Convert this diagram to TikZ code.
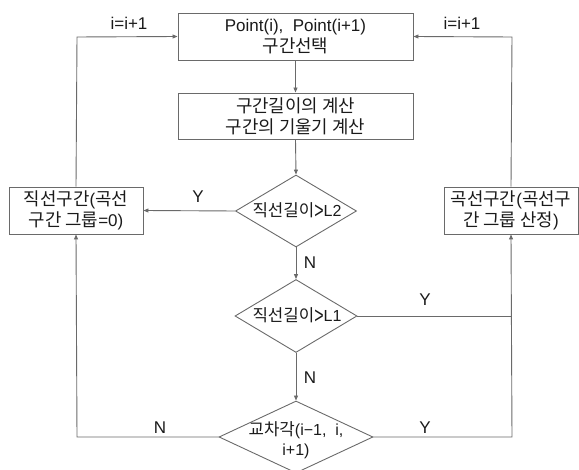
\documentclass[tikz,border=0pt]{standalone}
\usepackage{fontspec}
\usepackage{graphicx}
\setmainfont{Liberation Sans}
\newfontfamily\korfont{Noto Sans CJK KR}[Scale=1.05]
\newcommand{\kor}[1]{{\korfont #1}}
\newcommand{\tallgt}{\raisebox{-0.12em}{\scalebox{1}[1.45]{>}}}
\usetikzlibrary{arrows.meta,shapes.geometric}

\definecolor{linegray}{HTML}{6A6A6A}
\definecolor{txt}{HTML}{1A1A1A}

\tikzset{
  x=1pt, y=-1pt,
  every node/.style={text=txt, font=\fontsize{17}{21}\selectfont},
  procbox/.style={draw=linegray, line width=0.9pt, rectangle, inner sep=0pt, align=center},
  decision/.style={draw=linegray, line width=0.9pt, diamond, inner sep=0pt},
  flow/.style={draw=linegray, line width=0.9pt, -{Triangle[length=5pt,width=4pt]}},
  plain/.style={draw=linegray, line width=0.9pt},
  tag/.style={inner sep=0pt},
  dtext/.style={inner sep=0pt, font=\fontsize{16}{20}\selectfont},
}

\begin{document}
\begin{tikzpicture}
  \useasboundingbox (0,0) rectangle (579,470);

  % process boxes
  \node[procbox, minimum width=235pt, minimum height=47pt] (pick) at (295.5,36.5)
    {Point(i),\ \ Point(i+1)\\\kor{구간선택}};
  \node[procbox, minimum width=235pt, minimum height=46pt] (calc) at (295.5,116)
    {\kor{구간길이의 계산}\\\kor{구간의 기울기 계산}};
  \node[procbox, minimum width=134pt, minimum height=47pt] (straight) at (76,210.5)
    {\kor{직선구간}(\kor{곡선}\\\kor{구간 그룹}=0)};
  \node[procbox, minimum width=134pt, minimum height=47pt] (curve) at (511,210.5)
    {\kor{곡선구간}(\kor{곡선구}\\\kor{간 그룹 산정})};

  % decisions
  \node[decision, minimum width=121pt, minimum height=72pt] (dA) at (296,211) {};
  \node[dtext] at (297,211) {\kor{직선길이}\tallgt L2};
  \node[decision, minimum width=122pt, minimum height=73pt] (dB) at (296,316) {};
  \node[dtext] at (297,316) {\kor{직선길이}\tallgt L1};
  \node[decision, minimum width=154pt, minimum height=72pt] (dC) at (296,437) {};
  \node[dtext, align=center] at (296,440) {\kor{교차각}(i−1,\ \ i,\\i+1)};

  % bends of the loop lines
  \coordinate (lt) at (77,37);
  \coordinate (lb) at (77,437);
  \coordinate (rt) at (512,37);
  \coordinate (rm) at (512,316);
  \coordinate (rbm) at (512,437);

  % main chain
  \draw[flow] (pick.south) -- (calc.north);
  \draw[flow] (calc.south) -- (dA.north);
  \draw[flow] (dA.south) -- (dB.north);
  \draw[flow] (dB.south) -- (dC.north);

  % branches
  \draw[flow] (dA.west) -- (straight.east);
  \draw[plain] (dB.east) -- (rm);
  \draw[flow] (dC.east) -- (rbm) -- (curve.south);
  \draw[flow] (dC.west) -- (lb) -- (straight.south);

  % loops back to the top
  \draw[flow] (straight.north) -- (lt) -- (pick.west);
  \draw[flow] (curve.north) -- (rt) -- (pick.east);

  % labels
  \node[tag] at (129,23) {i=i+1};
  \node[tag] at (462,23) {i=i+1};
  \node[tag] at (198,197) {Y};
  \node[tag] at (310,263) {N};
  \node[tag] at (425,300) {Y};
  \node[tag] at (310,378) {N};
  \node[tag] at (160,428) {N};
  \node[tag] at (425,428) {Y};
\end{tikzpicture}
\end{document}
